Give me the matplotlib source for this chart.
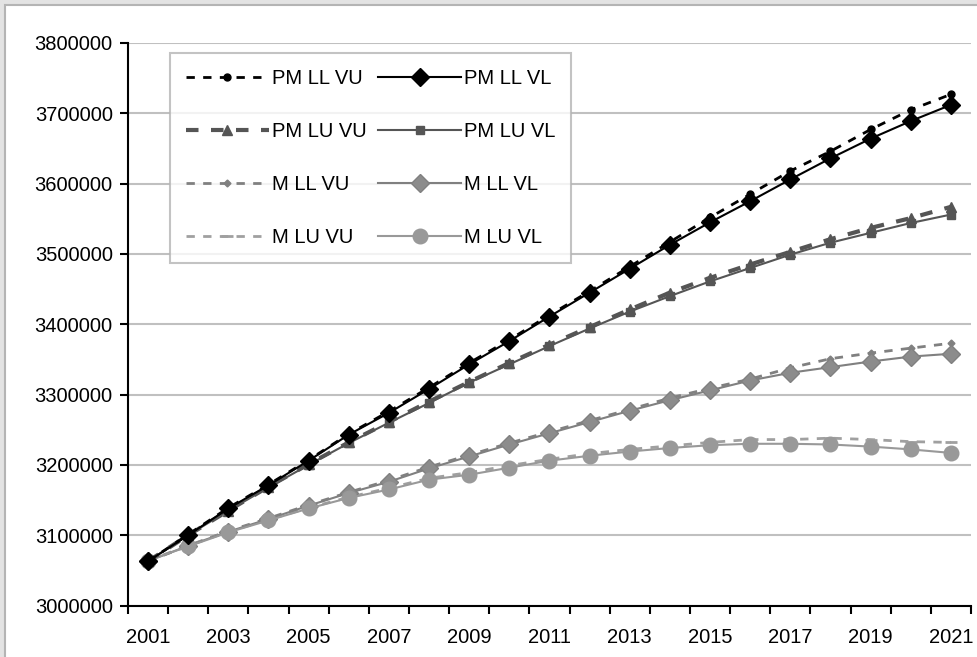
import numpy as np
import matplotlib.pyplot as plt
from matplotlib.patches import Rectangle

plt.rcParams['font.family'] = ['Liberation Sans', 'DejaVu Sans']

years = list(range(2001, 2022))

pm_ll_vu = [3063000, 3101000, 3139000, 3172000, 3207000, 3244000, 3276000, 3310000,
            3345000, 3378000, 3413000, 3447000, 3482000, 3517000, 3552000, 3585000,
            3618000, 3646000, 3677000, 3705000, 3727000]
pm_ll_vl = [3063000, 3100000, 3138000, 3171000, 3206000, 3243000, 3274000, 3308000,
            3343000, 3376000, 3411000, 3445000, 3479000, 3513000, 3545000, 3575000,
            3606000, 3636000, 3664000, 3689000, 3712000]
pm_lu_vu = [3063000, 3100000, 3135000, 3169000, 3201000, 3232000, 3261000, 3290000,
            3318000, 3345000, 3371000, 3396000, 3421000, 3445000, 3466000, 3485000,
            3503000, 3521000, 3537000, 3551000, 3567000]
pm_lu_vl = [3063000, 3100000, 3135000, 3168000, 3200000, 3231000, 3260000, 3288000,
            3317000, 3343000, 3369000, 3394000, 3418000, 3440000, 3461000, 3480000,
            3499000, 3516000, 3530000, 3544000, 3556000]
m_ll_vu = [3063000, 3085000, 3106000, 3124000, 3143000, 3161000, 3178000, 3197000,
           3214000, 3231000, 3247000, 3263000, 3279000, 3295000, 3309000, 3322000,
           3338000, 3351000, 3359000, 3366000, 3373000]
m_ll_vl = [3063000, 3085000, 3105000, 3123000, 3142000, 3160000, 3176000, 3195000,
           3212000, 3229000, 3245000, 3261000, 3277000, 3292000, 3306000, 3320000,
           3331000, 3339000, 3347000, 3354000, 3358000]
m_lu_vu = [3064000, 3085000, 3105000, 3122000, 3139000, 3154000, 3167000, 3181000,
           3189000, 3199000, 3208000, 3216000, 3222000, 3227000, 3232000, 3236000,
           3236000, 3238000, 3236000, 3233000, 3232000]
m_lu_vl = [3064000, 3084000, 3104000, 3121000, 3138000, 3153000, 3165000, 3179000,
           3186000, 3196000, 3206000, 3213000, 3219000, 3224000, 3228000, 3230000,
           3230000, 3229000, 3226000, 3222000, 3217000]

x = np.arange(len(years))

fig = plt.figure(figsize=(9.78, 6.57), dpi=100, facecolor='#e3e3e3')
# white chart area with grey border
fig.patches.append(Rectangle((5 / 978, -0.1), 1.2, 1.1 - 4.5 / 657,
                             transform=fig.transFigure, facecolor='white',
                             edgecolor='#b4b4b4', linewidth=1.5, zorder=-10))
ax = fig.add_axes([128 / 978, 1 - 605.5 / 657, 843 / 978, (605.5 - 43) / 657])
ax.patch.set_alpha(0)

dash = (0, (3, 3))
ax.plot(x, pm_ll_vu, color='black', linestyle=dash, lw=2, marker='o', ms=5,
        label='PM LL VU', zorder=5)
ax.plot(x, pm_lu_vu, color='#555555', linestyle=dash, lw=3, marker='^', ms=7,
        label='PM LU VU', zorder=4)
ax.plot(x, m_ll_vu, color='#808080', linestyle=dash, lw=2, marker='D', ms=3.5,
        label='M LL VU', zorder=3)
ax.plot(x, m_lu_vu, color='#a0a0a0', linestyle=dash, lw=2, marker='_', ms=9,
        mew=2, label='M LU VU', zorder=3)
ax.plot(x, pm_ll_vl, color='black', lw=1.5, marker='D', ms=9.5,
        label='PM LL VL', zorder=6)
ax.plot(x, pm_lu_vl, color='#555555', lw=1.5, marker='s', ms=6,
        label='PM LU VL', zorder=4)
ax.plot(x, m_ll_vl, color='#808080', lw=1.5, marker='D', ms=9.5, mfc='#8c8c8c',
        label='M LL VL', zorder=3)
ax.plot(x, m_lu_vl, color='#999999', lw=1.5, marker='o', ms=10.5,
        label='M LU VL', zorder=3)

ax.set_xlim(-0.5, len(years) - 0.5)
ax.set_ylim(3000000, 3800000)
ax.set_yticks(np.arange(3000000, 3800001, 100000))
ax.set_yticklabels([str(v) for v in range(3000000, 3800001, 100000)])
ax.set_xticks(x[::2])
ax.set_xticklabels([str(y) for y in years[::2]])
ax.set_xticks(np.arange(-0.5, len(years), 1), minor=True)
ax.tick_params(axis='x', which='major', length=0, pad=16, labelsize=14.5)
ax.tick_params(axis='x', which='minor', length=6, width=1.5, direction='out')
ax.tick_params(axis='y', length=6, width=1.5, direction='out', labelsize=14.5, pad=5)
ax.grid(axis='y', color='#c0c0c0', lw=1.5)
ax.set_axisbelow(True)
for s in ['top', 'right']:
    ax.spines[s].set_visible(False)
for s in ['left', 'bottom']:
    ax.spines[s].set_linewidth(1.5)

h, l = ax.get_legend_handles_labels()
leg = ax.legend(h, l, ncol=2, loc='upper left',
                bbox_to_anchor=(42 / 843, 1 - 10 / 562.5),
                fontsize=14.5, frameon=True, fancybox=False, handlelength=4.1,
                handletextpad=0.15, columnspacing=0.6, labelspacing=1.68,
                borderpad=0.8, borderaxespad=0)
leg.get_frame().set_edgecolor('#b4b4b4')
leg.get_frame().set_linewidth(1.5)

fig.savefig('out.png', dpi=100, facecolor=fig.get_facecolor())
